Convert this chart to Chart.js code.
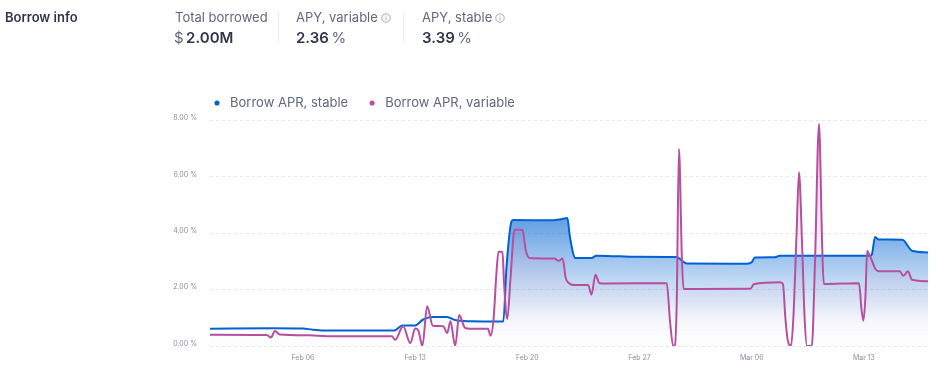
<!DOCTYPE html>
<html>
<head>
<meta charset="utf-8">
<script src="https://cdn.jsdelivr.net/npm/chart.js@4/dist/chart.umd.min.js"></script>
<style>
html,body{margin:0;padding:0;background:#fff;width:945px;height:371px;overflow:hidden;font-family:Inter,sans-serif}
#wrap{position:absolute;left:0;top:0;width:945px;height:371px}
canvas{position:absolute;left:0;top:0}
.t{position:absolute;white-space:nowrap;line-height:1}
.lab{font-size:13px;color:#62677b;top:11px}
.val{font-size:15px;font-weight:600;color:#303549;top:30px}
.val span{font-weight:400;color:#62677b}
.sep{position:absolute;top:12px;width:1px;height:30px;background:#eaebef}
.i{display:inline-block;vertical-align:-1px;margin-left:3px}
</style>
</head>
<body>
<div id="wrap">
<canvas id="c" width="945" height="371"></canvas>
<div class="t" style="left:5px;top:11px;font-size:13px;font-weight:600;color:#303549">Borrow info</div>
<div class="t lab" style="left:175px">Total borrowed</div>
<div class="t val" style="left:174px"><span>$</span>&#8201;2.00M</div>
<div class="sep" style="left:278px"></div>
<div class="t lab" style="left:296px">APY, variable<svg class="i" width="10" height="10" viewBox="0 0 10 10"><circle cx="5" cy="5" r="4.2" fill="none" stroke="#8d90a3" stroke-width=".8"/><path d="M5 4.4v3M5 2.6v.9" stroke="#8d90a3" stroke-width=".8"/></svg></div>
<div class="t val" style="left:296px">2.36&#8201;<span>%</span></div>
<div class="sep" style="left:403px"></div>
<div class="t lab" style="left:422px">APY, stable<svg class="i" width="10" height="10" viewBox="0 0 10 10"><circle cx="5" cy="5" r="4.2" fill="none" stroke="#8d90a3" stroke-width=".8"/><path d="M5 4.4v3M5 2.6v.9" stroke="#8d90a3" stroke-width=".8"/></svg></div>
<div class="t val" style="left:422px">3.39&#8201;<span>%</span></div>
</div>
<script>
// x positions are days counted from Feb 01 (= 0)
const tickDays = [5, 12, 19, 26, 33, 40];
const tickLabels = ['Feb 06', 'Feb 13', 'Feb 20', 'Feb 27', 'Mar 06', 'Mar 13'];
const yTicks = [0, 2, 4, 6, 8];

const stableDays = [-0.8,3.1,5,5.6,6.5,10.7,11.2,12,12.5,13.1,14,14.5,15.4,17.5,17.7,18,18.1,20.6,21.1,21.5,21.65,22,23,23.3,24.8,25.6,28.3,28.95,32.7,33,33.2,34.45,34.75,40.4,40.5,40.7,40.9,42.4,43,44];
const stableValues = [0.61,0.63,0.62,0.58,0.55,0.55,0.73,0.73,0.94,1.03,1.03,0.92,0.88,0.87,2.8,4.4,4.47,4.46,4.5,4.54,3.9,3.12,3.12,3.2,3.18,3.17,3.16,2.93,2.92,2.97,3.14,3.15,3.2,3.2,3.25,3.87,3.78,3.77,3.38,3.32];

const variableDays = [-0.8,2.75,3,3.25,3.55,5.4,6.5,10.55,10.75,11.25,11.7,12,12.2,12.45,12.75,13.1,13.75,14,14.2,14.5,14.75,15.1,15.4,16.55,16.7,16.9,17.05,17.2,17.45,17.55,17.75,17.95,18.2,18.7,18.9,19.15,20.7,20.95,21.2,21.4,21.6,22,22.8,23,23.25,23.5,23.95,27.7,27.9,28.1,28.2,28.32,28.46,28.65,28.75,32.9,33.15,34.75,34.95,35.1,35.25,35.45,35.6,35.8,35.95,36.15,36.3,36.45,36.75,36.95,37.2,37.4,37.5,39.7,39.85,39.97,40.1,40.2,40.45,40.7,40.9,42.25,42.45,42.75,43,44];
const variableValues = [0.4,0.39,0.3,0.53,0.41,0.38,0.35,0.35,0.22,0.7,0.1,0.62,0.55,0,1.41,0.72,0.7,0.46,0.88,0,1.1,0.65,0.61,0.61,0.37,1,2.4,3.34,3.34,2.2,0.96,2.4,4.12,4.12,3.4,3.12,3.1,3.02,3.1,2.4,2.23,2.16,2.16,1.82,2.53,2.23,2.22,2.23,0.9,0,0.02,1.5,6.99,3,2.02,2.03,2.2,2.26,2.2,1,0.2,0,1,4,6.16,3.5,1,0,0,3,7.88,3.5,2.2,2.23,1.3,0.9,1.8,3.37,3.1,2.75,2.65,2.65,2.49,2.65,2.35,2.3];

const seriesNames = ['Borrow APR, stable', 'Borrow APR, variable'];
const stableColor = '#0062d2';
const variableColor = '#b6509e';

function toPoints(xs, ys) { return xs.map((x, i) => ({ x, y: ys[i] })); }
function areaGradient(ctx, top, rgb, stops) {
  const chart = ctx.chart;
  if (!chart.chartArea) return 'transparent';
  const yS = chart.scales.y;
  const g = chart.ctx.createLinearGradient(0, yS.getPixelForValue(top), 0, yS.getPixelForValue(0));
  stops.forEach(s => g.addColorStop(s[0], 'rgba(' + rgb + ',' + s[1] + ')'));
  return g;
}

new Chart(document.getElementById('c'), {
  type: 'line',
  data: {
    datasets: [
      { label: seriesNames[0], data: toPoints(stableDays, stableValues), borderColor: stableColor,
        backgroundColor: c => areaGradient(c, Math.max(...stableValues), '0,98,210', [[0, 0.62], [0.45, 0.27], [0.8, 0.03], [1, 0]]),
        pointBackgroundColor: stableColor, borderWidth: 2, fill: 'origin', order: 1 },
      { label: seriesNames[1], data: toPoints(variableDays, variableValues), borderColor: variableColor,
        backgroundColor: c => areaGradient(c, Math.max(...variableValues), '182,80,158', [[0, 0.3], [0.5, 0.1], [1, 0]]),
        pointBackgroundColor: variableColor, borderWidth: 2, fill: 'origin', order: 0 }
    ]
  },
  options: {
    responsive: false, animation: false,
    devicePixelRatio: 1,
    elements: { point: { radius: 0 }, line: { cubicInterpolationMode: 'monotone' } },
    layout: { padding: { left: 0, right: 17, top: 80, bottom: 0 } },
    plugins: {
      tooltip: { enabled: false },
      legend: {
        position: 'top', align: 'start', fullSize: false,
        labels: { usePointStyle: true, pointStyle: 'circle', boxWidth: 13, boxHeight: 3.6, padding: 17.5,
          color: '#62677b', font: { family: 'Inter', size: 13 },
          generateLabels: ch => ch.data.datasets.map((d, i) => ({ text: d.label, fillStyle: d.borderColor, strokeStyle: d.borderColor, lineWidth: 0, pointStyle: 'circle', datasetIndex: i, fontColor: '#62677b' })) }
      }
    },
    scales: {
      x: {
        type: 'linear', min: -0.8, max: 44,
        grid: { display: false }, border: { display: false },
        afterBuildTicks: s => { s.ticks = tickDays.map(v => ({ value: v })); },
        afterFit: s => { s.height = 25; },
        ticks: { autoSkip: false, maxRotation: 0, padding: 0, color: '#8a8ea3', font: { family: 'Inter', size: 7 },
          callback: v => tickLabels[tickDays.indexOf(v)] }
      },
      y: {
        min: 0, max: 8,
        border: { display: false, dash: [3, 3] },
        grid: { color: '#e6e6e6', drawTicks: false, lineWidth: 1 },
        afterBuildTicks: s => { s.ticks = yTicks.map(v => ({ value: v })); },
        afterFit: s => { s.width = 210; },
        ticks: { autoSkip: false, padding: 13, color: '#8a8ea3', font: { family: 'Inter', size: 7, lineHeight: 0.7 },
          callback: v => [v.toFixed(2) + ' %', ''] }
      }
    }
  },
  plugins: [{
    id: 'legendPlace',
    afterLayout(ch) { ch.legend.left = 193; ch.legend.top = 79; }
  }]
});
</script>
</body>
</html>
